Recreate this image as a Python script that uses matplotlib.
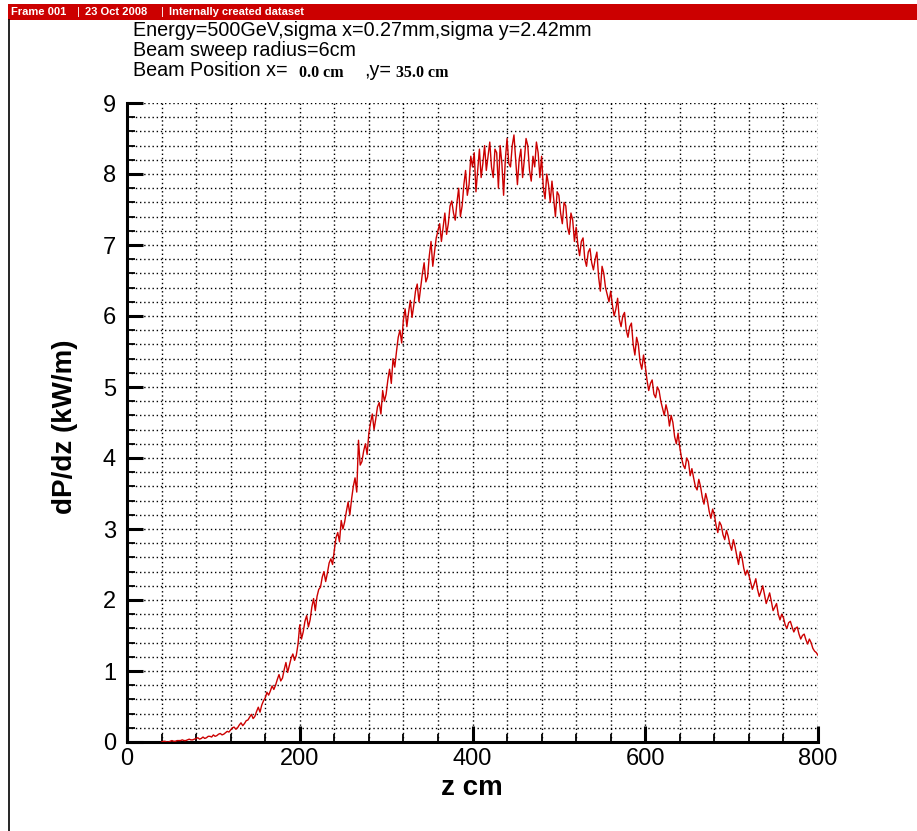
import numpy as np
import matplotlib
matplotlib.use("Agg")
import matplotlib.pyplot as plt
from matplotlib.ticker import MultipleLocator

plt.rcParams['font.family'] = ['Liberation Sans', 'DejaVu Sans']

# Deposited power per unit length along the beam axis (kW/m).
# Samples at z = 40, 44, ..., 800 cm
z_start, z_step = 40, 4
dpdz = [
    0.00, 0.01, 0.00, 0.02, 0.01, 0.02, 0.03, 0.02, 0.04, 0.03,   # 40-76
    0.05, 0.04, 0.07, 0.06, 0.08, 0.10, 0.09, 0.12, 0.11, 0.15,   # 80-116
    0.17, 0.21, 0.20, 0.27, 0.26, 0.31, 0.39, 0.36, 0.49, 0.52,   # 120-156
    0.62, 0.66, 0.79, 0.80, 0.95, 0.90, 1.12, 1.08, 1.24, 1.22,   # 160-196
    1.65, 1.55, 1.78, 1.72, 2.02, 2.05, 2.18, 2.40, 2.38, 2.58,   # 200-236
    2.70, 2.95, 3.12, 3.10, 3.38, 3.42, 3.72, 4.25, 3.95, 4.20,   # 240-276
    4.35, 4.62, 4.55, 4.78, 4.95, 4.90, 5.25, 5.40, 5.50, 5.80,   # 280-316
    5.95, 5.85, 6.22, 6.15, 6.45, 6.40, 6.75, 6.55, 7.05, 6.90,   # 320-356
    7.20, 7.05, 7.45, 7.30, 7.62, 7.35, 7.80, 7.55, 8.05, 7.85,   # 360-396
    8.10, 7.75, 8.35, 8.15, 8.05, 8.45, 7.95, 8.30, 8.40, 7.70,   # 400-436
    8.50, 8.10, 8.55, 7.85, 8.35, 8.20, 8.40, 7.90, 8.10, 8.30,   # 440-476
    8.25, 7.65, 7.85, 7.90, 7.40, 7.70, 7.30, 7.55, 7.15, 7.35,   # 480-516
    7.25, 6.85, 7.10, 6.70, 6.95, 6.65, 6.90, 6.35, 6.60, 6.30,   # 520-556
    6.35, 6.00, 6.25, 5.85, 6.05, 5.70, 5.90, 5.45, 5.60, 5.25,   # 560-596
    5.30, 4.95, 5.10, 4.85, 4.95, 4.70, 4.75, 4.45, 4.50, 4.20,   # 600-636
    4.15, 3.90, 4.00, 3.75, 3.72, 3.55, 3.60, 3.35, 3.40, 3.15,   # 640-676
    3.20, 2.95, 3.05, 2.85, 2.90, 2.70, 2.75, 2.50, 2.60, 2.35,   # 680-716
    2.35, 2.15, 2.30, 2.05, 2.20, 1.95, 2.10, 1.85, 1.95, 1.72,   # 720-756
    1.75, 1.60, 1.70, 1.55, 1.62, 1.45, 1.52, 1.38, 1.40, 1.28,   # 760-796
    1.22,                                                          # 800
]
# Samples at z = 42, 46, ..., 798 cm
z_mid_start = 42
dpdz_mid = [
    0.01, 0.00, 0.01, 0.01, 0.02, 0.02, 0.02, 0.03, 0.03, 0.04,   # 42-78
    0.06, 0.05, 0.05, 0.08, 0.07, 0.08, 0.11, 0.10, 0.13, 0.14,   # 82-118
    0.20, 0.18, 0.24, 0.23, 0.30, 0.35, 0.33, 0.43, 0.42, 0.58,   # 122-158
    0.70, 0.72, 0.74, 0.88, 0.86, 1.02, 0.98, 1.18, 1.15, 1.38,   # 162-198
    1.45, 1.70, 1.62, 1.90, 1.85, 2.15, 2.32, 2.26, 2.52, 2.50,   # 202-238
    2.88, 2.82, 3.00, 3.25, 3.20, 3.60, 3.52, 3.90, 4.10, 4.05,   # 242-278
    4.50, 4.40, 4.72, 4.62, 4.80, 5.10, 5.05, 5.28, 5.70, 5.62,   # 282-318
    6.10, 6.05, 5.98, 6.35, 6.20, 6.60, 6.48, 6.85, 6.70, 7.10,   # 322-358
    7.30, 7.25, 7.15, 7.55, 7.45, 7.60, 7.40, 7.85, 7.70, 8.25,   # 362-398
    8.30, 8.05, 7.95, 8.40, 8.25, 8.10, 8.35, 7.80, 8.15, 8.20,   # 402-438
    8.15, 8.40, 8.20, 8.20, 7.95, 8.50, 8.05, 8.25, 8.45, 7.95,   # 442-478
    7.80, 8.00, 7.60, 7.65, 7.75, 7.45, 7.60, 7.25, 7.45, 7.05,   # 482-518
    7.00, 7.05, 6.80, 6.90, 6.75, 6.80, 6.55, 6.70, 6.40, 6.20,   # 522-558
    6.15, 6.10, 5.95, 6.00, 5.80, 5.85, 5.60, 5.70, 5.35, 5.45,   # 562-598
    5.10, 5.05, 4.90, 5.00, 4.80, 4.60, 4.65, 4.60, 4.30, 4.35,   # 602-638
    4.00, 3.85, 3.95, 3.85, 3.60, 3.70, 3.45, 3.50, 3.25, 3.28,   # 642-678
    3.05, 3.10, 2.92, 2.98, 2.78, 2.85, 2.62, 2.68, 2.45, 2.42,   # 682-718
    2.25, 2.22, 2.15, 2.12, 2.08, 2.02, 1.98, 1.90, 1.80, 1.80,   # 722-758
    1.65, 1.68, 1.62, 1.60, 1.52, 1.50, 1.44, 1.45, 1.32, 1.26,   # 762-798
]

z_all = np.concatenate([z_start + z_step * np.arange(len(dpdz)),
                        z_mid_start + z_step * np.arange(len(dpdz_mid))])
p_all = np.concatenate([dpdz, dpdz_mid])
order = np.argsort(z_all)
z_all, p_all = z_all[order], p_all[order]

x_ticks = [0, 200, 400, 600, 800]
y_ticks = [0, 1, 2, 3, 4, 5, 6, 7, 8, 9]

W, H = 917, 831
fig = plt.figure(figsize=(W / 100, H / 100), dpi=100)
fig.patch.set_facecolor('white')


def fx(px):
    return px / W


def fy(py):
    return 1 - py / H


# Frame header bar and frame border
fig.patches.append(plt.Rectangle((fx(8), fy(20)), 1 - fx(8), fy(4) - fy(20),
                                 transform=fig.transFigure, facecolor='#cc0000',
                                 edgecolor='none', zorder=0))
fig.add_artist(plt.Line2D([fx(8.5), fx(8.5)], [0, fy(20)], color='black', lw=1.2,
                          transform=fig.transFigure))
hdr = dict(color='white', fontsize=8, fontweight='bold', va='center', ha='left')
fig.text(fx(11), fy(12), 'Frame 001', **hdr)
fig.text(fx(77), fy(12), '|', color='white', fontsize=8, va='center')
fig.text(fx(85), fy(12), '23 Oct 2008', **hdr)
fig.text(fx(161), fy(12), '|', color='white', fontsize=8, va='center')
fig.text(fx(169), fy(12), 'Internally created dataset', **hdr)

# Annotation lines above the plot
ann = dict(fontsize=14.2, va='center', ha='left', color='black')
fig.text(fx(133), fy(31), 'Energy=500GeV,sigma x=0.27mm,sigma y=2.42mm', **ann)
fig.text(fx(133), fy(51), 'Beam sweep radius=6cm', **ann)
fig.text(fx(133), fy(71), 'Beam Position x=', **ann)
serif = dict(fontsize=11.5, fontweight='bold', va='center', ha='left',
             family=['Liberation Serif', 'DejaVu Serif'])
fig.text(fx(299), fy(73), '0.0 cm', **serif)
fig.text(fx(364), fy(71), ',y=', **ann)
fig.text(fx(396), fy(73), '35.0 cm', **serif)

ax = fig.add_axes([fx(127), fy(742), fx(818) - fx(127), fy(103) - fy(742)])
ax.plot(z_all, p_all, color='#cc0000', lw=1.0, zorder=3)

ax.set_xlim(0, 800)
ax.set_ylim(0, 9)
ax.set_xticks(x_ticks)
ax.set_yticks(y_ticks)
ax.xaxis.set_minor_locator(MultipleLocator(40))
ax.yaxis.set_minor_locator(MultipleLocator(0.2))

for side in ('top', 'right'):
    ax.spines[side].set_visible(False)
for side in ('left', 'bottom'):
    ax.spines[side].set_linewidth(2.2)

ax.tick_params(which='major', direction='in', length=11.5, width=2.2,
               labelsize=17)
ax.tick_params(axis='x', which='major', pad=4)
ax.tick_params(axis='y', which='major', pad=8)
ax.tick_params(which='minor', direction='in', length=6, width=1.3)
ax.grid(which='both', color='black', linestyle=(0, (1, 2)), linewidth=1.0)
ax.set_axisbelow(True)

fig.text(fx(65), fy(427), 'dP/dz (kW/m)', rotation=90, fontsize=20,
         fontweight='bold', ha='center', va='center')
fig.text(fx(472), fy(788), 'z cm', fontsize=20, fontweight='bold',
         ha='center', va='center')

fig.savefig('out.png', dpi=100)
